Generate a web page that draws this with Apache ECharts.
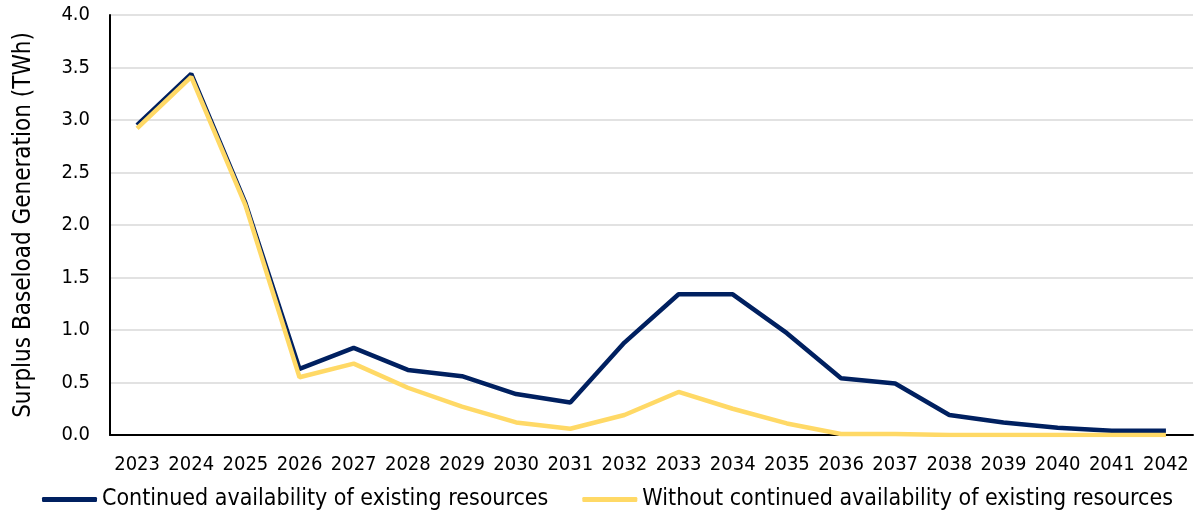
<!DOCTYPE html>
<html><head><meta charset="utf-8">
<script src="https://cdn.jsdelivr.net/npm/echarts@6/dist/echarts.min.js"></script>
<style>html,body{margin:0;padding:0;background:#fff}#c{width:1197px;height:517px}</style>
</head><body><div id="c"></div>
<script>
const years = ['2023','2024','2025','2026','2027','2028','2029','2030','2031','2032','2033','2034','2035','2036','2037','2038','2039','2040','2041','2042'];
const continued = [2.95,3.44,2.21,0.63,0.83,0.62,0.56,0.39,0.31,0.88,1.34,1.34,0.97,0.54,0.49,0.19,0.12,0.07,0.04,0.04];
const without = [2.92,3.41,2.19,0.55,0.68,0.45,0.27,0.12,0.06,0.19,0.41,0.25,0.11,0.01,0.01,0.00,0.00,0.00,0.00,0.00];
const yTicks = {min:0, max:4, interval:0.5};
const font = 'DejaVu Sans Condensed';
const chart = echarts.init(document.getElementById('c'));
chart.setOption({
  animation:false,
  textStyle:{fontFamily:font},
  grid:{left:110,right:4,top:15,bottom:82},
  legend:{bottom:1,left:37,itemWidth:55,itemHeight:5,itemGap:34,
    textStyle:{fontSize:23,color:'#000',fontFamily:font},
    icon:'roundRect',
    data:['Continued availability of existing resources','Without continued availability of existing resources']},
  xAxis:{type:'category',data:years,boundaryGap:true,
    axisLine:{lineStyle:{color:'#000',width:2}},
    axisTick:{show:false},
    axisLabel:{fontSize:20,color:'#000',margin:20,interval:0}},
  yAxis:{type:'value',min:yTicks.min,max:yTicks.max,interval:yTicks.interval,
    name:'Surplus Baseload Generation (TWh)',nameLocation:'middle',nameGap:74,
    nameTextStyle:{fontSize:24,color:'#000',fontFamily:font},
    axisLine:{show:true,lineStyle:{color:'#000',width:2}},
    axisTick:{show:false},
    splitLine:{lineStyle:{color:'#d9d9d9',width:1.5}},
    axisLabel:{fontSize:20,color:'#000',margin:20,formatter:v=>v.toFixed(1)}},
  series:[
    {name:'Continued availability of existing resources',type:'line',data:continued,
     symbol:'none',lineStyle:{color:'#002060',width:4.5},itemStyle:{color:'#002060'}},
    {name:'Without continued availability of existing resources',type:'line',data:without,
     symbol:'none',lineStyle:{color:'#FFD966',width:4.5},itemStyle:{color:'#FFD966'}}
  ]
});
</script></body></html>
